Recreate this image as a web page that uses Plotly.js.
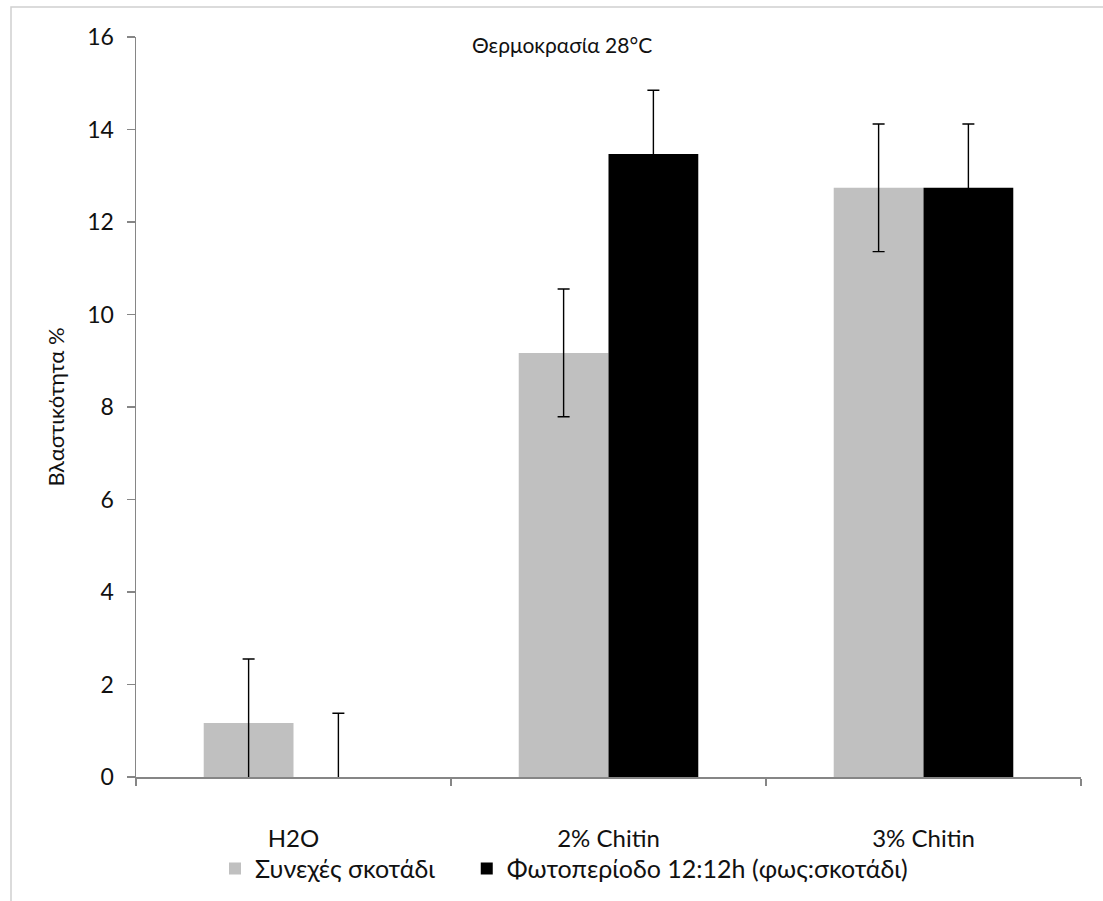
<!DOCTYPE html>
<html>
<head>
<meta charset="utf-8">
<script src="https://cdn.plot.ly/plotly-3.0.1.min.js"></script>
<style>
html,body{margin:0;padding:0;background:#fff;}
#chart{width:1103px;height:901px;}
</style>
</head>
<body>
<div id="chart"></div>
<script>
const categories = ["H2O", "2% Chitin", "3% Chitin"];
const darkValues = [1.17, 9.17, 12.74];
const darkErrors = [1.38, 1.38, 1.38];
const photoValues = [0, 13.47, 12.74];
const photoErrors = [1.38, 1.38, 1.38];
const seriesNames = ["Συνεχές σκοτάδι", "Φωτοπερίοδο 12:12h (φως:σκοτάδι)"];
const yTicks = [0, 2, 4, 6, 8, 10, 12, 14, 16];

const FONT = "Lato, 'Open Sans', sans-serif";
const errStyle = {type: "data", visible: true, color: "#000", thickness: 1.4, width: 6};

const traces = [
  {
    type: "bar", name: seriesNames[0], x: categories, y: darkValues,
    marker: {color: "#C0C0C0"}, legend: "legend",
    error_y: Object.assign({array: darkErrors}, errStyle),
    cliponaxis: true
  },
  {
    type: "bar", name: seriesNames[1], x: categories, y: photoValues,
    marker: {color: "#000000"}, legend: "legend2",
    error_y: Object.assign({array: photoErrors}, errStyle),
    cliponaxis: true
  }
];

const legendBase = {
  orientation: "h", xanchor: "left", y: -0.124, yanchor: "middle",
  font: {family: FONT, size: 25, color: "#111"}, itemwidth: 30,
  bgcolor: "rgba(0,0,0,0)"
};

const layout = {
  width: 1103, height: 901,
  margin: {l: 136, r: 22, t: 37, b: 124, autoexpand: false},
  paper_bgcolor: "#fff", plot_bgcolor: "#fff",
  font: {family: FONT, size: 22, color: "#111"},
  barmode: "group",
  bargap: 0.43, bargroupgap: 0,
  showlegend: true,
  legend: Object.assign({x: 0.0836}, legendBase),
  legend2: Object.assign({x: 0.350}, legendBase),
  xaxis: {
    type: "category", showline: true, linecolor: "#868686", linewidth: 1.5,
    ticks: "outside", tickson: "boundaries", ticklen: 7, tickcolor: "#868686", tickwidth: 1.5,
    showgrid: false, zeroline: false, automargin: false,
    tickfont: {family: FONT, size: 24, color: "#111"},
    ticklabelstandoff: 40
  },
  yaxis: {
    range: [0, 16], tickvals: yTicks, ticktext: yTicks.map(String),
    showline: true, linecolor: "#868686", linewidth: 1.5,
    ticks: "outside", ticklen: 8, tickcolor: "#868686", tickwidth: 1.5,
    showgrid: false, zeroline: false, automargin: false,
    tickfont: {family: FONT, size: 23, color: "#111"},
    ticklabelstandoff: 8,
    title: {text: "Βλαστικότητα %", font: {family: FONT, size: 22, color: "#111"}, standoff: 16}
  },
  annotations: [{
    text: "Θερμοκρασία 28°C", xref: "paper", yref: "paper",
    x: 0.451, y: 0.99, xanchor: "center", yanchor: "middle", showarrow: false,
    font: {family: FONT, size: 21, color: "#111"}
  }],
  shapes: [{
    type: "rect", xref: "paper", yref: "paper",
    x0: -125/945, x1: 1.05, y0: -0.2, y1: 1 + 30/740,
    line: {color: "#d0d0d0", width: 1.5}, fillcolor: "rgba(0,0,0,0)", layer: "below"
  }]
};

Plotly.newPlot("chart", traces, layout, {displayModeBar: false, staticPlot: true});
</script>
</body>
</html>
